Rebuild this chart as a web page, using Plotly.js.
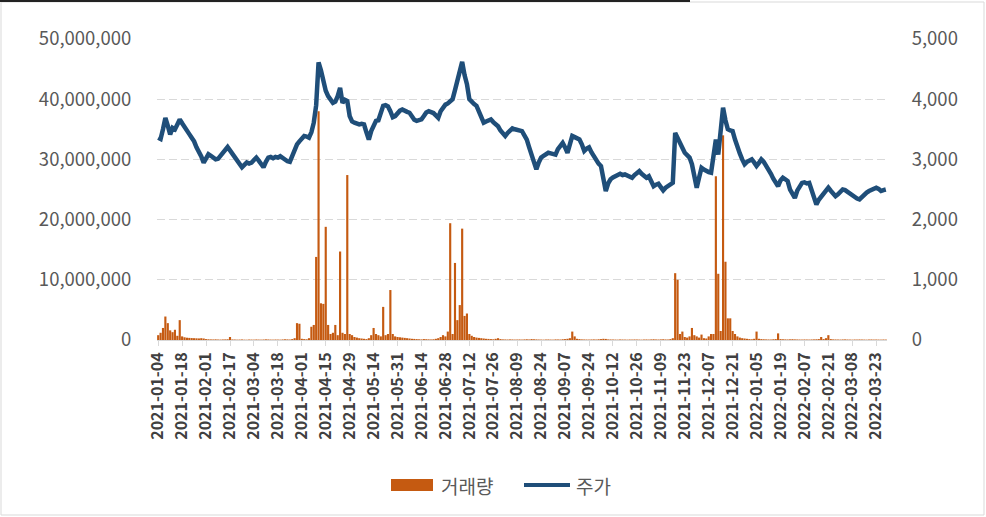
<!DOCTYPE html>
<html><head><meta charset="utf-8">
<script src="https://cdn.plot.ly/plotly-3.0.1.min.js"></script>
<style>html,body{margin:0;padding:0;background:#fff;} #chart{width:986px;height:517px;}</style>
</head><body><div id="chart"></div>
<script>
// Korean exchange holidays (weekdays) in the period
const holidays = ['2021-01-01','2021-02-11','2021-02-12','2021-03-01','2021-05-05','2021-05-19',
  '2021-08-16','2021-09-20','2021-09-21','2021-09-22','2021-10-04','2021-10-11','2021-12-31',
  '2022-01-31','2022-02-01','2022-02-02','2022-03-01','2022-03-09'];
const firstDay = '2021-01-04';
const lastDay = '2022-03-29';

const tickLabels = ['2021-01-04','2021-01-18','2021-02-01','2021-02-17','2021-03-04','2021-03-18',
  '2021-04-01','2021-04-15','2021-04-29','2021-05-14','2021-05-31','2021-06-14','2021-06-28',
  '2021-07-12','2021-07-26','2021-08-09','2021-08-24','2021-09-07','2021-09-24','2021-10-12',
  '2021-10-26','2021-11-09','2021-11-23','2021-12-07','2021-12-21','2022-01-05','2022-01-19',
  '2022-02-07','2022-02-21','2022-03-08','2022-03-23'];

// 거래량 (shares)
const volume = [
  800000,1200000,2000000,3900000,2800000,1600000,1300000,1700000,700000,3300000,
  600000,450000,380000,350000,320000,300000,280000,260000,300000,250000,
  150000,120000,100000,90000,110000,80000,70000,90000,100000,120000,
  500000,90000,80000,60000,70000,90000,60000,50000,80000,70000,
  60000,90000,70000,60000,80000,110000,90000,70000,60000,80000,
  70000,60000,90000,120000,100000,80000,150000,300000,2800000,2700000,
  200000,150000,120000,300000,2200000,2500000,13800000,38000000,6100000,6000000,
  18800000,2500000,1000000,1200000,2500000,800000,14700000,1200000,1000000,27400000,
  1000000,800000,500000,400000,300000,250000,200000,150000,300000,800000,
  2000000,1000000,800000,600000,5500000,800000,1000000,8300000,1000000,600000,
  500000,450000,400000,350000,300000,250000,200000,180000,150000,120000,
  100000,150000,130000,110000,90000,120000,200000,300000,500000,800000,
  600000,1400000,19400000,1000000,12800000,3300000,5800000,18500000,4000000,4400000,
  1000000,700000,500000,400000,350000,300000,250000,200000,180000,150000,
  120000,200000,300000,150000,100000,90000,80000,100000,90000,70000,
  80000,90000,70000,100000,120000,90000,150000,120000,100000,80000,
  70000,60000,80000,90000,70000,60000,100000,90000,80000,120000,
  150000,200000,300000,1400000,600000,200000,150000,100000,90000,80000,
  70000,90000,100000,80000,120000,150000,200000,180000,100000,90000,
  80000,70000,60000,90000,80000,70000,60000,80000,70000,90000,
  80000,70000,60000,80000,90000,70000,100000,120000,90000,80000,
  100000,120000,90000,80000,150000,300000,11100000,10000000,1000000,1400000,
  500000,400000,600000,2000000,800000,600000,400000,900000,300000,250000,
  600000,1000000,1000000,27200000,11000000,1500000,34000000,13000000,3600000,3600000,
  1500000,1000000,600000,400000,300000,250000,200000,150000,120000,200000,
  1400000,200000,150000,120000,100000,90000,80000,120000,150000,1100000,
  150000,120000,100000,90000,110000,130000,100000,90000,80000,70000,
  90000,80000,70000,90000,100000,120000,150000,500000,150000,300000,
  800000,150000,100000,90000,80000,70000,90000,100000,80000,70000,
  60000,80000,70000,90000,80000,70000,60000,80000,90000,70000,
  80000,70000,60000,80000,70000
];

// 주가 (KRW)
const price = [
  3360,3340,3500,3690,3560,3415,3525,3500,3580,3665,
  3600,3550,3470,3420,3360,3300,3200,3140,3050,2945,
  3020,3085,3060,3030,3000,3010,3060,3120,3170,3205,
  3150,3090,3030,2960,2900,2870,2910,2950,2930,2945,
  2990,3030,2980,2910,2870,2960,3030,3040,3020,3040,
  3030,3055,3020,2990,2970,2960,3070,3140,3250,3300,
  3350,3390,3380,3360,3450,3610,3900,4610,4480,4300,
  4140,4050,4000,3940,3960,4050,4190,3940,3990,3970,
  3720,3630,3610,3600,3580,3590,3580,3450,3330,3470,
  3560,3640,3650,3750,3890,3900,3880,3800,3700,3720,
  3780,3810,3830,3800,3790,3775,3720,3660,3640,3660,
  3665,3720,3780,3800,3790,3770,3730,3690,3800,3870,
  3910,3930,3960,4000,4150,4300,4400,4620,4400,4250,
  4000,3950,3920,3890,3800,3700,3610,3630,3650,3665,
  3620,3580,3550,3480,3430,3390,3440,3480,3515,3500,
  3490,3480,3470,3400,3330,3200,3080,2950,2835,2950,
  3030,3060,3090,3110,3100,3090,3080,3170,3240,3275,
  3200,3110,3250,3390,3370,3350,3330,3250,3140,3180,
  3200,3120,3055,2980,2930,2890,2700,2475,2600,2670,
  2700,2730,2740,2760,2740,2750,2730,2710,2695,2740,
  2780,2805,2760,2720,2695,2720,2640,2555,2580,2595,
  2540,2485,2530,2560,2580,2610,3440,3350,3250,3180,
  3110,3070,3030,2920,2700,2530,2700,2860,2830,2805,
  2790,2780,3050,3330,3080,3500,3860,3650,3500,3480,
  3470,3330,3190,3100,3000,2920,2960,2990,3000,2950,
  2890,2940,3000,2960,2900,2835,2760,2680,2600,2555,
  2650,2695,2670,2640,2500,2420,2360,2480,2560,2610,
  2620,2600,2610,2500,2380,2250,2330,2380,2420,2480,
  2530,2480,2430,2390,2420,2470,2500,2490,2460,2430,
  2400,2370,2350,2335,2380,2420,2450,2475,2500,2520,
  2530,2510,2475,2490,2500
];

// trading calendar: weekdays that are not holidays
function tradingDays(from, to, off) {
  const out = [];
  const d = new Date(from + 'T00:00:00Z');
  const end = new Date(to + 'T00:00:00Z');
  while (d <= end) {
    const s = d.toISOString().slice(0, 10);
    const w = d.getUTCDay();
    if (w !== 0 && w !== 6 && off.indexOf(s) < 0) out.push(s);
    d.setUTCDate(d.getUTCDate() + 1);
  }
  return out;
}
const dates = tradingDays(firstDay, lastDay, holidays);
if (dates.length !== price.length || dates.length !== volume.length) {
  console.error('length mismatch', dates.length, price.length, volume.length);
}

const W = 986, H = 517;
const M = {l: 157, r: 99, t: 39, b: 177};
const pw = W - M.l - M.r, ph = H - M.t - M.b;
const px = x => (x - M.l) / pw;
const py = y => (H - M.b - y) / ph;

const FONT = '"Noto Sans CJK KR", "Noto Sans", sans-serif';
const ORANGE = '#C55A11';
const NAVY = '#1F4E79';

const traces = [
  {type: 'bar', name: '거래량', x: dates, y: volume, marker: {color: ORANGE}, yaxis: 'y', hoverinfo: 'skip'},
  {type: 'scatter', mode: 'lines', name: '주가', x: dates, y: price, yaxis: 'y2',
   line: {color: NAVY, width: 4.5}, hoverinfo: 'skip'}
];

const layout = {
  width: W, height: H,
  margin: {l: M.l, r: M.r, t: M.t, b: M.b, pad: 0},
  paper_bgcolor: '#ffffff', plot_bgcolor: '#ffffff',
  showlegend: false,
  bargap: 0.1,
  font: {family: FONT, color: '#595959'},
  xaxis: {
    type: 'category', tickmode: 'array', tickvals: tickLabels, ticktext: tickLabels,
    tickangle: -90, range: [-0.5, dates.length - 0.5], automargin: false,
    tickfont: {family: FONT, size: 16, color: '#404040', weight: 'bold'},
    showgrid: false, showline: true, linecolor: '#D9D9D9', linewidth: 1,
    ticks: 'outside', ticklen: 5, tickcolor: '#D9D9D9', fixedrange: true
  },
  yaxis: {
    range: [0, 50000000], dtick: 10000000, tick0: 0, tickformat: ',d',
    showgrid: true, gridcolor: '#D9D9D9', griddash: '8px,4px', gridwidth: 1,
    zeroline: false, showline: false, automargin: false,
    ticks: 'outside', ticklen: 21, tickcolor: 'rgba(0,0,0,0)',
    tickfont: {family: FONT, size: 18.5, color: '#595959'}
  },
  yaxis2: {
    overlaying: 'y', side: 'right', range: [0, 5000], dtick: 1000, tick0: 0, tickformat: ',d',
    showgrid: false, zeroline: false, showline: false, automargin: false,
    ticks: 'outside', ticklen: 20, tickcolor: 'rgba(0,0,0,0)',
    tickfont: {family: FONT, size: 18.5, color: '#595959'}
  },
  shapes: [
    // outer frame
    {type: 'rect', xref: 'paper', yref: 'paper', x0: px(1), x1: px(984), y0: py(515), y1: py(2),
     line: {color: '#D9D9D9', width: 1}, fillcolor: 'rgba(0,0,0,0)', layer: 'below'},
    {type: 'line', xref: 'paper', yref: 'paper', x0: px(0), x1: px(690), y0: py(1), y1: py(1),
     line: {color: '#222222', width: 2}},
    // legend swatches
    {type: 'rect', xref: 'paper', yref: 'paper', x0: px(391), x1: px(433), y0: py(491), y1: py(479),
     line: {width: 0}, fillcolor: ORANGE},
    {type: 'line', xref: 'paper', yref: 'paper', x0: px(524), x1: px(570), y0: py(485), y1: py(485),
     line: {color: NAVY, width: 4}}
  ],
  annotations: [
    {xref: 'paper', yref: 'paper', x: px(439), y: py(485), xanchor: 'left', yanchor: 'middle',
     text: '거래량', showarrow: false, font: {family: FONT, size: 19, color: '#595959'}},
    {xref: 'paper', yref: 'paper', x: px(574), y: py(485), xanchor: 'left', yanchor: 'middle',
     text: '주가', showarrow: false, font: {family: FONT, size: 19, color: '#595959'}}
  ]
};

Plotly.newPlot('chart', traces, layout, {staticPlot: true, displayModeBar: false});
</script>
</body></html>
